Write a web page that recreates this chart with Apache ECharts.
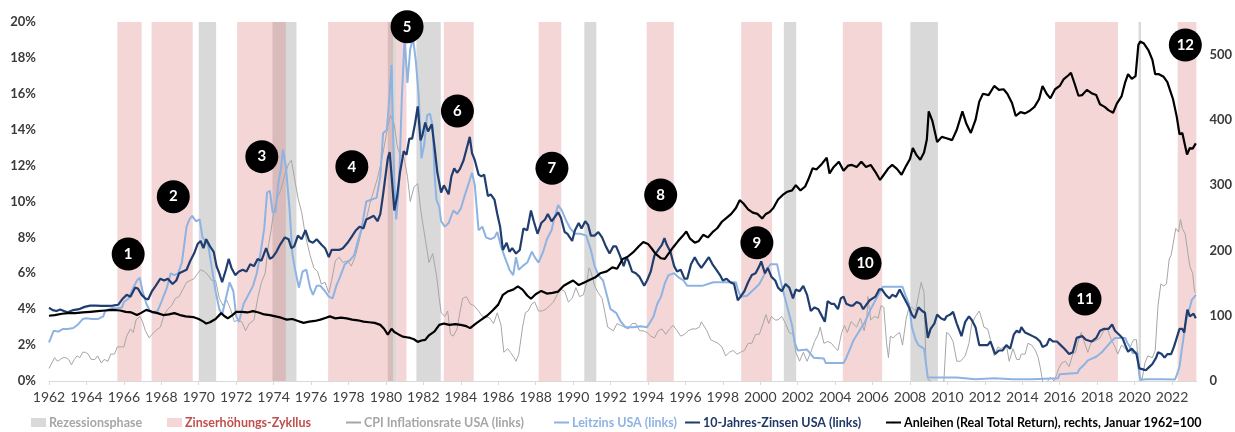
<!DOCTYPE html>
<html><head><meta charset="utf-8">
<script src="https://cdn.jsdelivr.net/npm/echarts@6/dist/echarts.min.js"></script>
<style>html,body{margin:0;padding:0;background:#fff}#c{width:1235px;height:432px}</style>
</head><body><div id="c"></div>
<script>
// ---- data ----
const yearTicks = [1962,1964,1966,1968,1970,1972,1974,1976,1978,1980,1982,1984,1986,1988,1990,1992,1994,1996,1998,2000,2002,2004,2006,2008,2010,2012,2014,2016,2018,2020,2022];
const recessions = [[1970.0,1970.93],[1973.94,1975.22],[1980.1,1980.56],[1981.63,1982.93],[1990.6,1991.24],[2001.26,2001.92],[2008.02,2009.49],[2020.21,2020.34]];
const hikeCycles = [[1965.65,1966.95],[1967.48,1969.68],[1972.05,1974.65],[1976.91,1980.38],[1980.56,1981.1],[1983.09,1984.69],[1988.16,1989.37],[1993.93,1995.38],[1998.98,2000.63],[2004.41,2006.51],[2015.75,2019.11],[2022.3,2023.3]];
const markerLabels = ['1','2','3','4','5','6','7','8','9','10','11','12'];
const markerYears = [1966.23,1968.64,1973.37,1978.18,1981.13,1983.82,1988.87,1994.68,1999.82,2005.6,2017.35,2022.71];
const markerLevels = [7.07,10.27,12.5,11.94,19.74,15.04,11.85,10.36,7.7,6.56,4.57,18.72];

const cpi = [[1962.0,0.7],[1962.15,1.0],[1962.3,1.3],[1962.45,1.1],[1962.6,1.2],[1962.75,1.3],[1962.9,1.3],[1963.05,1.2],[1963.2,0.9],[1963.35,1.2],[1963.5,1.4],[1963.65,1.3],[1963.8,1.6],[1963.95,1.6],[1964.1,1.5],[1964.25,1.2],[1964.45,1.2],[1964.6,1.4],[1964.8,1.0],[1964.95,1.2],[1965.15,1.1],[1965.3,1.5],[1965.5,1.5],[1965.65,1.9],[1965.85,1.9],[1966.0,1.9],[1966.15,2.5],[1966.35,2.9],[1966.5,2.7],[1966.65,3.4],[1966.85,3.6],[1967.0,3.3],[1967.15,2.8],[1967.35,2.4],[1967.5,2.6],[1967.7,2.8],[1967.95,3.0],[1968.15,3.7],[1968.35,4.0],[1968.55,4.2],[1968.75,4.6],[1968.95,4.7],[1969.15,5.1],[1969.35,5.5],[1969.55,5.6],[1969.75,5.7],[1969.95,6.0],[1970.1,6.2],[1970.3,6.1],[1970.5,5.9],[1970.7,5.6],[1970.9,5.6],[1971.1,4.6],[1971.3,4.2],[1971.5,4.5],[1971.7,4.0],[1971.9,3.3],[1972.1,3.4],[1972.3,3.3],[1972.5,2.8],[1972.7,3.2],[1972.95,3.4],[1973.15,4.6],[1973.35,5.5],[1973.55,6.0],[1973.7,7.4],[1973.85,8.3],[1974.0,9.4],[1974.2,10.2],[1974.4,10.7],[1974.6,11.5],[1974.8,12.1],[1974.95,12.3],[1975.1,11.4],[1975.3,10.2],[1975.5,9.4],[1975.7,8.1],[1975.95,7.0],[1976.15,6.3],[1976.35,6.1],[1976.55,5.4],[1976.75,5.5],[1976.95,4.9],[1977.1,5.6],[1977.3,6.7],[1977.5,6.9],[1977.7,6.6],[1977.95,6.7],[1978.15,6.4],[1978.35,6.9],[1978.55,7.7],[1978.75,8.6],[1978.95,9.0],[1979.15,9.9],[1979.35,10.6],[1979.55,11.3],[1979.75,12.2],[1979.95,13.3],[1980.1,14.2],[1980.25,14.8],[1980.45,14.3],[1980.6,13.1],[1980.75,12.6],[1980.95,12.5],[1981.15,11.4],[1981.3,10.0],[1981.5,10.8],[1981.7,11.0],[1981.85,9.6],[1981.95,8.9],[1982.15,7.6],[1982.3,6.6],[1982.5,7.1],[1982.7,5.9],[1982.85,4.6],[1982.95,3.8],[1983.15,3.6],[1983.3,3.9],[1983.45,2.6],[1983.6,2.5],[1983.8,2.9],[1983.95,3.8],[1984.1,4.6],[1984.3,4.7],[1984.5,4.3],[1984.7,4.2],[1984.95,3.9],[1985.15,3.6],[1985.35,3.6],[1985.55,3.5],[1985.75,3.2],[1985.95,3.8],[1986.15,3.1],[1986.3,1.6],[1986.5,1.8],[1986.65,1.6],[1986.85,1.3],[1986.95,1.1],[1987.1,1.5],[1987.3,3.0],[1987.45,3.8],[1987.6,3.9],[1987.8,4.3],[1987.95,4.4],[1988.15,3.9],[1988.35,3.9],[1988.55,4.0],[1988.75,4.2],[1988.95,4.4],[1989.15,4.8],[1989.35,5.1],[1989.55,5.0],[1989.75,4.4],[1989.95,4.6],[1990.15,5.2],[1990.35,4.7],[1990.55,4.8],[1990.75,5.6],[1990.85,6.3],[1990.95,6.1],[1991.15,5.3],[1991.35,4.9],[1991.55,4.6],[1991.7,3.8],[1991.85,3.0],[1991.95,3.1],[1992.15,2.8],[1992.35,3.2],[1992.55,3.1],[1992.75,3.0],[1992.95,2.9],[1993.15,3.2],[1993.35,3.2],[1993.55,2.8],[1993.75,2.8],[1993.95,2.7],[1994.15,2.5],[1994.35,2.4],[1994.55,2.8],[1994.75,2.9],[1994.95,2.6],[1995.15,2.9],[1995.35,3.1],[1995.55,2.8],[1995.75,2.5],[1995.95,2.6],[1996.15,2.8],[1996.35,2.9],[1996.55,2.9],[1996.75,3.0],[1996.85,3.3],[1996.95,3.2],[1997.15,2.8],[1997.35,2.3],[1997.55,2.2],[1997.75,2.1],[1997.95,1.9],[1998.15,1.4],[1998.35,1.6],[1998.55,1.7],[1998.75,1.5],[1998.95,1.6],[1999.15,1.7],[1999.35,2.1],[1999.55,2.1],[1999.75,2.6],[1999.95,2.6],[2000.15,3.2],[2000.3,3.7],[2000.45,3.2],[2000.6,3.6],[2000.8,3.4],[2000.95,3.4],[2001.15,3.6],[2001.35,3.2],[2001.55,2.7],[2001.75,2.6],[2001.9,1.6],[2002.1,1.1],[2002.3,1.6],[2002.5,1.1],[2002.7,1.6],[2002.9,2.2],[2003.1,2.6],[2003.2,3.0],[2003.4,2.1],[2003.6,2.2],[2003.8,2.1],[2003.95,1.9],[2004.15,1.7],[2004.35,2.7],[2004.5,3.1],[2004.65,2.7],[2004.85,3.3],[2004.95,3.3],[2005.15,3.0],[2005.35,3.5],[2005.55,2.8],[2005.7,3.6],[2005.75,4.7],[2005.9,3.4],[2006.1,3.6],[2006.3,3.5],[2006.45,4.2],[2006.6,4.1],[2006.75,2.1],[2006.85,1.3],[2006.95,2.5],[2007.1,2.4],[2007.3,2.6],[2007.45,2.7],[2007.6,2.0],[2007.8,3.5],[2007.95,4.1],[2008.1,4.1],[2008.3,3.9],[2008.5,5.0],[2008.6,5.5],[2008.75,4.9],[2008.85,1.1],[2008.95,0.1],[2009.1,0.0],[2009.3,-0.7],[2009.55,-2.0],[2009.8,-0.2],[2009.95,2.7],[2010.1,2.6],[2010.3,2.2],[2010.5,1.1],[2010.7,1.1],[2010.95,1.4],[2011.15,2.1],[2011.3,3.2],[2011.5,3.6],[2011.7,3.9],[2011.85,3.4],[2011.95,3.0],[2012.15,2.9],[2012.3,2.3],[2012.5,1.4],[2012.7,1.9],[2012.85,1.8],[2012.95,1.7],[2013.15,2.0],[2013.3,1.1],[2013.5,1.8],[2013.7,1.2],[2013.85,1.2],[2013.95,1.5],[2014.15,1.5],[2014.3,2.1],[2014.5,2.0],[2014.7,1.7],[2014.85,1.3],[2014.95,0.8],[2015.1,-0.1],[2015.3,-0.1],[2015.5,0.2],[2015.7,0.0],[2015.85,0.4],[2015.95,0.7],[2016.1,1.0],[2016.3,1.1],[2016.5,0.8],[2016.7,1.5],[2016.85,1.6],[2016.95,2.1],[2017.15,2.7],[2017.3,2.2],[2017.5,1.6],[2017.7,2.2],[2017.85,2.2],[2017.95,2.1],[2018.15,2.4],[2018.35,2.8],[2018.55,2.9],[2018.75,2.3],[2018.95,1.9],[2019.1,1.5],[2019.3,2.0],[2019.5,1.8],[2019.7,1.7],[2019.85,2.1],[2019.95,2.3],[2020.1,2.3],[2020.25,0.3],[2020.4,0.1],[2020.55,1.0],[2020.7,1.4],[2020.95,1.3],[2021.1,1.7],[2021.25,4.2],[2021.4,5.4],[2021.55,5.3],[2021.7,5.4],[2021.85,6.8],[2021.95,7.0],[2022.1,7.9],[2022.2,8.5],[2022.35,8.3],[2022.45,9.0],[2022.55,8.5],[2022.7,8.2],[2022.85,7.1],[2022.95,6.4],[2023.1,6.0],[2023.2,5.0],[2023.27,4.9]];

const leitzins = [[1962.0,2.15],[1962.1,2.4],[1962.25,2.8],[1962.5,2.75],[1962.75,2.9],[1963.0,2.9],[1963.3,2.95],[1963.55,3.15],[1963.8,3.45],[1964.0,3.5],[1964.3,3.45],[1964.6,3.45],[1964.9,3.6],[1965.0,3.9],[1965.3,4.05],[1965.6,4.05],[1965.9,4.1],[1966.0,4.4],[1966.25,4.6],[1966.5,5.2],[1966.7,5.6],[1966.85,5.75],[1967.0,5.0],[1967.2,4.3],[1967.4,3.9],[1967.55,3.8],[1967.8,3.9],[1968.0,4.4],[1968.3,5.2],[1968.5,6.0],[1968.7,5.9],[1968.9,6.0],[1969.1,6.6],[1969.35,8.6],[1969.5,9.0],[1969.65,9.2],[1969.85,8.9],[1970.05,9.0],[1970.2,8.0],[1970.5,7.6],[1970.7,6.3],[1970.9,5.0],[1971.1,4.0],[1971.25,3.7],[1971.45,4.6],[1971.65,5.5],[1971.85,5.0],[1972.0,3.6],[1972.15,3.3],[1972.4,4.3],[1972.65,4.8],[1972.9,5.3],[1973.1,6.0],[1973.3,7.1],[1973.5,8.5],[1973.65,10.5],[1973.8,10.6],[1973.95,9.4],[1974.1,9.4],[1974.25,11.0],[1974.4,11.9],[1974.5,12.9],[1974.65,12.0],[1974.85,9.6],[1975.0,7.1],[1975.15,6.2],[1975.35,5.2],[1975.55,6.1],[1975.75,6.2],[1975.95,5.2],[1976.1,4.8],[1976.3,5.3],[1976.5,5.3],[1976.75,5.0],[1976.95,4.7],[1977.15,4.6],[1977.35,5.3],[1977.55,5.8],[1977.8,6.5],[1978.05,6.7],[1978.3,7.0],[1978.5,7.8],[1978.7,8.5],[1978.95,10.0],[1979.2,10.1],[1979.5,10.2],[1979.7,11.4],[1979.85,13.8],[1980.05,14.0],[1980.2,16.0],[1980.3,17.6],[1980.45,11.0],[1980.55,9.0],[1980.7,10.9],[1980.85,15.8],[1981.0,19.1],[1981.15,16.6],[1981.3,18.5],[1981.45,19.1],[1981.6,17.8],[1981.75,15.9],[1981.9,12.4],[1982.05,13.2],[1982.2,14.8],[1982.35,14.9],[1982.5,14.2],[1982.6,11.5],[1982.7,10.1],[1982.85,9.7],[1982.95,8.9],[1983.15,8.6],[1983.35,8.8],[1983.6,9.5],[1983.8,9.3],[1984.0,9.6],[1984.2,10.3],[1984.45,11.1],[1984.6,11.6],[1984.75,10.9],[1984.95,8.4],[1985.15,8.6],[1985.35,8.0],[1985.6,7.9],[1985.8,8.0],[1985.95,8.3],[1986.15,7.5],[1986.35,6.9],[1986.6,6.2],[1986.8,5.9],[1986.95,6.9],[1987.1,6.2],[1987.3,6.4],[1987.55,6.6],[1987.8,7.2],[1987.95,6.9],[1988.15,6.6],[1988.4,7.2],[1988.6,7.9],[1988.85,8.4],[1989.0,9.1],[1989.2,9.8],[1989.4,9.5],[1989.6,9.0],[1989.85,8.5],[1990.1,8.2],[1990.4,8.2],[1990.7,8.1],[1990.95,7.3],[1991.15,6.4],[1991.35,5.9],[1991.6,5.6],[1991.85,4.6],[1992.0,4.0],[1992.3,3.8],[1992.55,3.3],[1992.8,3.0],[1993.2,3.0],[1993.6,3.05],[1993.95,3.0],[1994.1,3.25],[1994.3,3.6],[1994.5,4.3],[1994.7,4.7],[1994.9,5.45],[1995.1,5.9],[1995.4,6.0],[1995.6,5.8],[1995.9,5.6],[1996.1,5.3],[1996.5,5.3],[1996.9,5.3],[1997.2,5.4],[1997.5,5.5],[1997.9,5.5],[1998.3,5.5],[1998.7,5.5],[1998.8,5.1],[1998.95,4.7],[1999.3,4.75],[1999.55,5.0],[1999.75,5.2],[1999.95,5.4],[2000.15,5.8],[2000.4,6.3],[2000.55,6.5],[2000.9,6.5],[2001.0,6.0],[2001.15,5.3],[2001.35,4.5],[2001.5,3.9],[2001.7,3.1],[2001.85,2.1],[2002.0,1.7],[2002.5,1.75],[2002.85,1.3],[2003.4,1.25],[2003.5,1.0],[2004.45,1.0],[2004.6,1.3],[2004.8,1.8],[2005.0,2.3],[2005.3,2.8],[2005.6,3.3],[2005.9,4.0],[2006.15,4.5],[2006.4,5.0],[2006.55,5.25],[2007.6,5.25],[2007.75,4.8],[2007.95,4.3],[2008.1,3.0],[2008.3,2.3],[2008.45,2.0],[2008.75,1.8],[2008.85,1.0],[2008.95,0.2],[2009.5,0.2],[2010.5,0.2],[2011.5,0.1],[2012.5,0.15],[2013.5,0.1],[2014.5,0.1],[2015.9,0.15],[2016.0,0.38],[2016.95,0.45],[2017.05,0.65],[2017.3,0.9],[2017.5,1.15],[2017.95,1.35],[2018.25,1.6],[2018.5,1.9],[2018.75,2.2],[2018.95,2.4],[2019.5,2.4],[2019.6,2.15],[2019.75,1.9],[2019.9,1.55],[2020.15,1.6],[2020.22,0.65],[2020.3,0.05],[2020.6,0.1],[2021.5,0.1],[2022.15,0.08],[2022.25,0.33],[2022.4,0.8],[2022.5,1.6],[2022.6,2.3],[2022.7,3.1],[2022.85,3.8],[2022.95,4.1],[2023.05,4.5],[2023.15,4.6],[2023.27,4.8]];

const zehnJahre = [[1962.0,4.08],[1962.2,3.95],[1962.4,3.9],[1962.6,3.98],[1962.8,3.9],[1963.0,3.83],[1963.3,3.95],[1963.6,4.0],[1963.9,4.13],[1964.2,4.2],[1964.5,4.2],[1964.8,4.18],[1965.1,4.19],[1965.4,4.2],[1965.7,4.25],[1965.95,4.6],[1966.15,4.8],[1966.35,4.7],[1966.6,5.2],[1966.75,5.15],[1966.95,4.8],[1967.15,4.6],[1967.3,4.55],[1967.5,5.0],[1967.7,5.3],[1967.95,5.7],[1968.15,5.6],[1968.35,5.7],[1968.6,5.4],[1968.8,5.6],[1968.95,6.0],[1969.15,6.1],[1969.35,6.2],[1969.55,6.7],[1969.75,7.1],[1969.95,7.65],[1970.1,7.8],[1970.25,7.4],[1970.4,7.9],[1970.6,7.5],[1970.8,7.2],[1970.95,6.4],[1971.1,6.0],[1971.25,5.5],[1971.45,6.2],[1971.6,6.8],[1971.75,6.3],[1971.95,5.9],[1972.15,6.1],[1972.35,6.2],[1972.55,6.1],[1972.75,6.5],[1972.95,6.4],[1973.15,6.8],[1973.35,6.7],[1973.6,7.4],[1973.8,6.8],[1973.95,6.9],[1974.15,7.2],[1974.35,7.6],[1974.6,8.0],[1974.8,7.9],[1974.95,7.4],[1975.1,7.5],[1975.3,8.1],[1975.5,7.9],[1975.7,8.4],[1975.9,7.8],[1976.1,7.7],[1976.3,7.9],[1976.55,7.6],[1976.75,7.4],[1976.95,6.9],[1977.1,7.3],[1977.3,7.3],[1977.5,7.3],[1977.7,7.4],[1977.95,7.7],[1978.15,8.0],[1978.4,8.4],[1978.6,8.6],[1978.8,8.5],[1978.95,9.0],[1979.15,9.1],[1979.35,9.2],[1979.55,8.9],[1979.7,9.3],[1979.85,10.4],[1979.95,10.3],[1980.1,12.4],[1980.2,12.75],[1980.3,11.5],[1980.45,9.5],[1980.6,10.3],[1980.75,11.6],[1980.95,12.8],[1981.1,12.6],[1981.25,13.5],[1981.4,13.5],[1981.55,14.3],[1981.7,15.3],[1981.85,13.4],[1981.95,13.7],[1982.1,14.4],[1982.25,13.9],[1982.45,14.3],[1982.6,13.0],[1982.75,11.6],[1982.95,10.5],[1983.1,10.9],[1983.35,10.4],[1983.5,11.4],[1983.65,11.85],[1983.8,11.6],[1983.95,11.8],[1984.15,12.3],[1984.3,12.9],[1984.48,13.6],[1984.6,12.7],[1984.75,12.3],[1984.95,11.5],[1985.1,11.4],[1985.25,11.5],[1985.45,10.3],[1985.6,10.4],[1985.8,10.1],[1985.95,9.3],[1986.1,8.6],[1986.25,7.3],[1986.45,7.7],[1986.6,7.2],[1986.75,7.4],[1986.95,7.1],[1987.15,7.3],[1987.35,8.5],[1987.55,8.4],[1987.75,9.5],[1987.9,8.9],[1988.1,8.2],[1988.3,8.8],[1988.5,9.0],[1988.65,9.3],[1988.85,8.9],[1989.0,9.1],[1989.2,9.4],[1989.35,9.1],[1989.55,8.3],[1989.7,8.2],[1989.95,7.8],[1990.1,8.4],[1990.3,8.8],[1990.45,8.5],[1990.65,8.9],[1990.8,8.7],[1990.95,8.1],[1991.15,8.1],[1991.35,8.3],[1991.55,8.0],[1991.75,7.5],[1991.95,7.1],[1992.15,7.5],[1992.3,7.5],[1992.5,7.0],[1992.7,6.4],[1992.85,6.9],[1992.95,6.7],[1993.15,6.1],[1993.35,6.0],[1993.55,5.8],[1993.8,5.3],[1993.95,5.6],[1994.15,6.1],[1994.35,7.0],[1994.55,7.3],[1994.75,7.6],[1994.88,7.96],[1995.0,7.6],[1995.2,7.2],[1995.4,6.4],[1995.55,6.1],[1995.75,6.2],[1995.95,5.7],[1996.1,5.7],[1996.3,6.5],[1996.5,6.9],[1996.65,6.6],[1996.85,6.3],[1997.05,6.6],[1997.25,6.9],[1997.45,6.5],[1997.65,6.2],[1997.85,5.9],[1998.0,5.6],[1998.2,5.7],[1998.4,5.5],[1998.6,5.4],[1998.8,4.5],[1998.95,4.7],[1999.15,5.0],[1999.35,5.5],[1999.55,5.9],[1999.75,6.0],[1999.95,6.4],[2000.05,6.66],[2000.25,6.0],[2000.4,6.3],[2000.6,5.8],[2000.8,5.6],[2000.95,5.2],[2001.15,5.0],[2001.35,5.4],[2001.55,5.2],[2001.75,4.6],[2001.9,5.1],[2002.1,5.0],[2002.3,5.3],[2002.5,4.8],[2002.7,3.9],[2002.9,4.1],[2003.1,4.0],[2003.3,3.6],[2003.45,3.3],[2003.6,4.45],[2003.8,4.3],[2003.95,4.3],[2004.15,4.0],[2004.3,4.6],[2004.45,4.7],[2004.6,4.3],[2004.8,4.2],[2004.95,4.2],[2005.15,4.4],[2005.35,4.3],[2005.5,4.0],[2005.7,4.3],[2005.85,4.5],[2005.95,4.5],[2006.15,4.7],[2006.35,5.1],[2006.5,5.1],[2006.7,4.8],[2006.9,4.6],[2007.05,4.8],[2007.25,4.7],[2007.45,5.1],[2007.65,4.7],[2007.85,4.3],[2007.95,4.1],[2008.1,3.7],[2008.25,3.5],[2008.45,4.1],[2008.65,3.9],[2008.8,3.8],[2008.95,2.4],[2009.1,2.9],[2009.3,3.2],[2009.45,3.7],[2009.65,3.5],[2009.85,3.4],[2009.95,3.6],[2010.15,3.7],[2010.3,3.85],[2010.5,3.2],[2010.75,2.5],[2010.95,3.3],[2011.15,3.6],[2011.3,3.4],[2011.5,3.0],[2011.7,2.0],[2011.95,2.0],[2012.15,2.0],[2012.3,2.2],[2012.55,1.5],[2012.75,1.7],[2012.95,1.7],[2013.15,2.0],[2013.35,1.8],[2013.55,2.6],[2013.7,2.8],[2013.85,2.7],[2013.95,3.0],[2014.15,2.7],[2014.35,2.6],[2014.55,2.5],[2014.75,2.4],[2014.95,2.2],[2015.08,1.9],[2015.3,2.0],[2015.45,2.36],[2015.65,2.2],[2015.85,2.2],[2016.05,2.0],[2016.25,1.8],[2016.5,1.5],[2016.7,1.6],[2016.9,2.4],[2017.0,2.45],[2017.2,2.5],[2017.4,2.3],[2017.7,2.2],[2017.95,2.4],[2018.15,2.8],[2018.35,2.9],[2018.6,2.9],[2018.8,3.15],[2018.95,2.8],[2019.15,2.6],[2019.35,2.4],[2019.5,2.0],[2019.65,1.63],[2019.85,1.8],[2019.95,1.9],[2020.1,1.5],[2020.25,0.7],[2020.45,0.65],[2020.6,0.6],[2020.8,0.8],[2020.95,0.95],[2021.15,1.3],[2021.25,1.6],[2021.45,1.5],[2021.6,1.3],[2021.75,1.5],[2021.95,1.5],[2022.1,1.9],[2022.25,2.4],[2022.4,2.9],[2022.55,2.9],[2022.65,2.7],[2022.75,3.5],[2022.82,3.98],[2022.95,3.6],[2023.05,3.5],[2023.15,3.75],[2023.27,3.5]];

const anleihen = [[1962.0,100],[1962.3,101],[1962.7,103],[1963.0,104],[1963.4,104],[1963.8,105],[1964.2,106],[1964.6,107],[1965.0,108],[1965.4,109],[1965.8,108],[1966.1,106],[1966.4,105],[1966.7,101],[1966.9,104],[1967.2,109],[1967.5,106],[1967.8,104],[1968.1,101],[1968.4,102],[1968.7,104],[1969.0,101],[1969.3,99],[1969.7,98],[1970.0,95],[1970.25,91],[1970.4,88],[1970.6,90],[1970.9,95],[1971.2,104],[1971.35,100],[1971.55,96],[1971.8,101],[1972.0,106],[1972.3,106],[1972.6,105],[1972.9,107],[1973.2,105],[1973.5,102],[1973.8,101],[1974.1,99],[1974.4,97],[1974.7,94],[1975.0,95],[1975.3,92],[1975.6,89],[1975.9,91],[1976.2,92],[1976.5,94],[1976.8,97],[1977.0,99],[1977.3,96],[1977.6,97],[1977.9,96],[1978.2,94],[1978.5,93],[1978.8,91],[1979.1,90],[1979.4,89],[1979.7,86],[1979.9,80],[1980.1,71],[1980.3,80],[1980.45,75],[1980.7,71],[1980.9,68],[1981.1,67],[1981.3,66],[1981.5,64],[1981.7,60],[1981.9,62],[1982.1,63],[1982.3,70],[1982.6,76],[1982.85,86],[1983.1,88],[1983.4,86],[1983.7,87],[1984.0,86],[1984.3,84],[1984.5,81],[1984.8,88],[1985.1,94],[1985.4,100],[1985.7,108],[1986.0,117],[1986.25,132],[1986.5,137],[1986.8,140],[1987.05,145],[1987.3,140],[1987.55,131],[1987.75,126],[1988.0,133],[1988.3,138],[1988.6,134],[1988.9,135],[1989.2,137],[1989.5,146],[1989.8,151],[1990.0,154],[1990.3,147],[1990.6,151],[1990.9,155],[1991.2,159],[1991.45,165],[1991.8,168],[1992.1,174],[1992.35,172],[1992.65,187],[1992.9,190],[1993.2,197],[1993.5,206],[1993.75,213],[1994.0,210],[1994.2,203],[1994.4,195],[1994.7,188],[1994.9,187],[1995.1,195],[1995.35,205],[1995.6,214],[1995.85,222],[1996.05,229],[1996.25,218],[1996.5,212],[1996.7,214],[1996.95,224],[1997.2,220],[1997.45,228],[1997.7,234],[1997.95,244],[1998.2,250],[1998.45,256],[1998.7,265],[1998.9,277],[1999.1,272],[1999.35,263],[1999.6,258],[1999.85,256],[2000.1,249],[2000.3,256],[2000.5,259],[2000.7,265],[2000.95,278],[2001.2,285],[2001.45,290],[2001.7,292],[2001.9,300],[2002.15,292],[2002.4,298],[2002.6,311],[2002.8,326],[2003.0,324],[2003.3,333],[2003.55,342],[2003.7,318],[2003.9,327],[2004.2,336],[2004.45,322],[2004.7,330],[2004.9,331],[2005.15,328],[2005.4,336],[2005.65,328],[2005.9,331],[2006.2,318],[2006.4,308],[2006.6,316],[2006.85,326],[2007.05,331],[2007.3,325],[2007.55,316],[2007.8,330],[2008.0,340],[2008.15,357],[2008.35,346],[2008.55,339],[2008.75,350],[2008.9,370],[2009.0,413],[2009.2,398],[2009.45,366],[2009.7,374],[2009.95,372],[2010.25,369],[2010.5,385],[2010.8,413],[2011.0,395],[2011.25,380],[2011.5,400],[2011.7,428],[2011.9,440],[2012.2,438],[2012.5,452],[2012.75,446],[2013.0,447],[2013.2,440],[2013.45,426],[2013.65,406],[2013.9,412],[2014.15,410],[2014.4,414],[2014.65,420],[2014.9,432],[2015.08,452],[2015.3,440],[2015.5,433],[2015.75,447],[2016.0,452],[2016.2,462],[2016.45,468],[2016.6,472],[2016.8,455],[2017.0,437],[2017.2,438],[2017.45,446],[2017.7,441],[2017.95,438],[2018.15,424],[2018.4,420],[2018.6,415],[2018.85,411],[2019.05,425],[2019.3,436],[2019.5,458],[2019.65,470],[2019.85,463],[2020.05,467],[2020.2,515],[2020.3,520],[2020.5,517],[2020.75,506],[2020.95,492],[2021.1,470],[2021.3,470],[2021.55,466],[2021.75,458],[2021.9,445],[2022.05,432],[2022.25,405],[2022.4,378],[2022.55,380],[2022.7,360],[2022.8,347],[2022.95,357],[2023.1,356],[2023.27,364]];

// ---- chart ----
const FONT = 'Lato';
const chart = echarts.init(document.getElementById('c'), null, {renderer: 'canvas'});

function bandSeries(name, ranges, fill, z) {
  return {
    name: name, type: 'custom', z: z, silent: true,
    xAxisIndex: 0, yAxisIndex: 0,
    itemStyle: {color: fill},
    encode: {x: [0, 1]},
    data: ranges.map(r => [r[0], r[1]]),
    renderItem: function (params, api) {
      const p0 = api.coord([api.value(0), 20]);
      const p1 = api.coord([api.value(1), 0]);
      return {type: 'rect', shape: {x: p0[0], y: p0[1], width: p1[0] - p0[0], height: p1[1] - p0[1]}, style: {fill: fill}};
    }
  };
}

const legendBase = {top: 416, itemWidth: 15, itemHeight: 9, itemGap: 0, padding: 0,
  textStyle: {fontFamily: FONT, fontSize: 12.5, fontWeight: 'bold', padding: [0, 0, 0, -2]}};
function lg(left, name, color, icon) {
  const o = Object.assign({}, legendBase, {left: left, textStyle: Object.assign({}, legendBase.textStyle, {color: color})});
  o.data = [icon ? {name: name, icon: icon} : {name: name}];
  if (!icon) { o.itemHeight = 2; }
  return o;
}

const option = {
  animation: false,
  textStyle: {fontFamily: FONT},
  grid: {left: 49, right: 38, top: 22, bottom: 51, containLabel: false},
  legend: [
    lg(31, 'Rezessionsphase', '#a6a6a6', 'rect'),
    lg(167, 'Zinserhöhungs-Zykllus', '#c0504d', 'rect'),
    lg(345, 'CPI Inflationsrate USA (links)', '#a6a6a6'),
    lg(553, 'Leitzins USA (links)', '#8db3e2'),
    lg(684, '10-Jahres-Zinsen USA (links)', '#1f3864'),
    lg(885, 'Anleihen (Real Total Return), rechts, Januar 1962=100', '#000000')
  ],
  xAxis: {
    type: 'value', min: 1962, max: 2023.3, interval: 2,
    axisLine: {show: true, lineStyle: {color: '#d9d9d9', width: 1}},
    axisTick: {show: true, length: 4, lineStyle: {color: '#d9d9d9'}},
    splitLine: {show: false},
    axisLabel: {
      showMaxLabel: false, margin: 9, fontSize: 14, color: '#404040', fontFamily: FONT,
      formatter: v => (yearTicks.indexOf(Math.round(v)) >= 0 && Math.abs(v - Math.round(v)) < 1e-6) ? String(Math.round(v)) : ''
    }
  },
  yAxis: [
    {type: 'value', min: 0, max: 20, interval: 2,
     axisLine: {show: false}, axisTick: {show: false}, splitLine: {show: false},
     axisLabel: {formatter: '{value}%', fontSize: 13, fontWeight: 'bold', color: '#3a3a3a', margin: 13, fontFamily: FONT}},
    {type: 'value', min: 0, max: 550, interval: 100, position: 'right',
     axisLine: {show: false}, axisTick: {show: false}, splitLine: {show: false},
     axisLabel: {showMaxLabel: false, fontSize: 13, fontWeight: 'bold', color: '#3a3a3a', margin: 13, fontFamily: FONT}}
  ],
  series: [
    bandSeries('Rezessionsphase', recessions, '#d9d9d9', 1),
    bandSeries('Zinserhöhungs-Zykllus', hikeCycles, 'rgba(222,120,120,0.30)', 2),
    {name: 'CPI Inflationsrate USA (links)', type: 'line', data: cpi, symbol: 'none', z: 3,
     lineStyle: {width: 1, color: '#a6a6a6'}, itemStyle: {color: '#a6a6a6'}, clip: true},
    {name: 'Leitzins USA (links)', type: 'line', data: leitzins, symbol: 'none', z: 4,
     lineStyle: {width: 2, color: '#8db3e2'}, itemStyle: {color: '#8db3e2'}, clip: true},
    {name: '10-Jahres-Zinsen USA (links)', type: 'line', data: zehnJahre, symbol: 'none', z: 5,
     lineStyle: {width: 2.2, color: '#1f3d6e'}, itemStyle: {color: '#1f3d6e'}, clip: true},
    {name: 'Anleihen (Real Total Return), rechts, Januar 1962=100', type: 'line', yAxisIndex: 1, data: anleihen, symbol: 'none', z: 6,
     lineStyle: {width: 2.2, color: '#000000'}, itemStyle: {color: '#000000'}, clip: true},
    {name: 'marker', type: 'scatter', z: 10, silent: true, clip: false,
     data: markerYears.map((y, i) => [y, markerLevels[i], markerLabels[i]]),
     symbol: 'circle', symbolSize: 33, itemStyle: {color: '#000000', opacity: 1},
     emphasis: {disabled: true},
     label: {show: true, position: 'inside', formatter: p => p.value[2], color: '#ffffff', fontWeight: 'bold', fontSize: 15, fontFamily: FONT}}
  ]
};
chart.setOption(option);
</script>
</body></html>
